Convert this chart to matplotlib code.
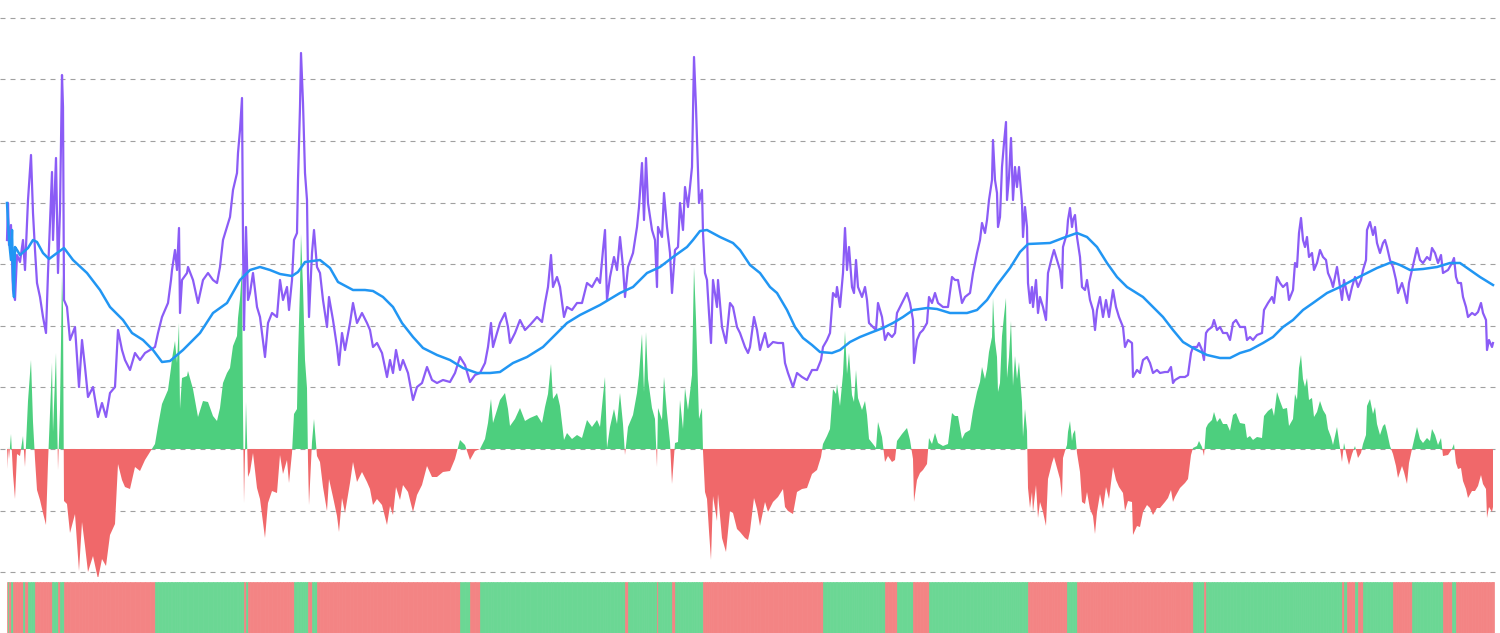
import numpy as np
import matplotlib.pyplot as plt

# price samples (day index, level) and the gap between price and its moving average
day = [7, 8, 9, 11, 13, 15, 17, 20, 23, 25,
       28, 31, 33, 35, 37, 40, 43, 46, 48, 52,
       53, 56, 58, 60, 62, 63, 64, 67, 70, 75,
       79, 82, 85, 88, 93, 98, 102, 106, 110, 115,
       118, 122, 125, 130, 135, 140, 145, 150, 155, 158,
       162, 165, 168, 171, 172, 175, 177, 179, 180, 182,
       187, 188, 193, 198, 203, 208, 213, 217, 220, 223,
       227, 230, 233, 237, 238, 240, 242, 243, 244, 246,
       248, 250, 253, 257, 260, 265, 268, 272, 277, 280,
       283, 287, 289, 292, 294, 297, 298, 300, 301, 303,
       305, 307, 308, 309, 312, 314, 317, 320, 323, 327,
       329, 333, 337, 339, 342, 345, 350, 353, 357, 362,
       367, 370, 373, 377, 382, 387, 390, 393, 396, 400,
       403, 408, 413, 417, 422, 427, 432, 437, 443, 450,
       455, 460, 465, 470, 475, 480, 485, 488, 491, 493,
       497, 500, 505, 508, 510, 515, 520, 525, 530, 537,
       542, 545, 548, 551, 553, 557, 560, 564, 567, 572,
       577, 582, 587, 592, 597, 600, 603, 605, 607, 610,
       614, 617, 620, 623, 625, 628, 633, 637, 639, 642,
       644, 646, 648, 652, 655, 657, 658, 662, 664, 667,
       670, 672, 675, 678, 680, 683, 685, 688, 692, 694,
       696, 697, 699, 702, 703, 705, 707, 709, 711, 713,
       717, 718, 722, 726, 730, 733, 737, 740, 745, 748,
       750, 754, 757, 760, 765, 768, 773, 778, 783, 785,
       788, 793, 797, 802, 807, 812, 817, 821, 823, 827,
       830, 833, 836, 837, 840, 843, 845, 847, 849, 852,
       854, 856, 858, 862, 865, 867, 869, 873, 876, 878,
       882, 885, 888, 892, 895, 897, 902, 907, 910, 913,
       914, 917, 920, 923, 927, 929, 932, 935, 938, 943,
       948, 952, 955, 958, 962, 965, 970, 973, 977, 980,
       982, 985, 987, 989, 992, 993, 995, 997, 998, 1000,
       1002, 1004, 1006, 1007, 1009, 1011, 1013, 1015, 1017, 1019,
       1022, 1023, 1025, 1027, 1028, 1030, 1032, 1033, 1036, 1038,
       1040, 1043, 1046, 1048, 1052, 1054, 1057, 1060, 1062, 1063,
       1065, 1067, 1068, 1070, 1072, 1073, 1075, 1077, 1080, 1082,
       1085, 1087, 1090, 1093, 1095, 1097, 1100, 1103, 1106, 1109,
       1113, 1116, 1119, 1123, 1125, 1128, 1132, 1133, 1137, 1140,
       1143, 1147, 1150, 1153, 1157, 1160, 1165, 1168, 1171, 1173,
       1175, 1180, 1185, 1188, 1191, 1193, 1197, 1199, 1202, 1204,
       1206, 1208, 1212, 1214, 1217, 1220, 1223, 1227, 1230, 1233,
       1236, 1240, 1245, 1247, 1250, 1253, 1257, 1262, 1264, 1268,
       1272, 1274, 1277, 1280, 1283, 1287, 1289, 1293, 1295, 1297,
       1299, 1301, 1303, 1305, 1307, 1309, 1312, 1314, 1317, 1320,
       1323, 1326, 1328, 1331, 1333, 1337, 1339, 1342, 1344, 1347,
       1349, 1352, 1355, 1358, 1361, 1363, 1366, 1367, 1370, 1373,
       1375, 1377, 1380, 1383, 1385, 1387, 1390, 1393, 1396, 1398,
       1402, 1404, 1407, 1409, 1412, 1415, 1417, 1420, 1423, 1427,
       1430, 1432, 1435, 1438, 1441, 1443, 1448, 1452, 1454, 1456,
       1458, 1461, 1463, 1466, 1468, 1472, 1475, 1478, 1481, 1483,
       1486, 1487, 1489, 1492, 1493]

price = [209, 246, 204, 224, 159, 149, 194, 187, 209, 179,
         249, 294, 236, 199, 166, 152, 132, 116, 176, 277,
         209, 291, 176, 239, 374, 342, 149, 142, 109, 122,
         62, 109, 82, 52, 62, 32, 46, 32, 56, 62,
         119, 99, 89, 79, 96, 89, 96, 99, 102, 116,
         132, 139, 146, 169, 179, 199, 179, 221, 136, 169,
         176, 182, 169, 146, 169, 176, 169, 166, 182, 209,
         222, 232, 259, 276, 296, 319, 351, 209, 119, 222,
         149, 156, 176, 142, 132, 92, 126, 136, 132, 169,
         149, 162, 139, 169, 209, 216, 269, 342, 396, 346,
         276, 249, 176, 132, 196, 219, 182, 176, 149, 122,
         152, 129, 102, 84, 116, 99, 126, 146, 126, 136,
         126, 119, 102, 106, 96, 72, 89, 76, 99, 79,
         89, 76, 49, 62, 66, 82, 69, 66, 69, 67,
         76, 92, 84, 67, 74, 76, 86, 102, 126, 102,
         116, 126, 136, 122, 106, 116, 129, 119, 124, 132,
         127, 146, 162, 194, 162, 172, 162, 132, 142, 139,
         146, 146, 166, 162, 171, 166, 199, 219, 149, 172,
         192, 179, 212, 182, 152, 182, 196, 222, 242, 286,
         229, 291, 246, 219, 209, 162, 222, 212, 256, 222,
         196, 156, 199, 202, 246, 219, 262, 242, 282, 392,
         342, 309, 246, 259, 216, 176, 169, 136, 106, 169,
         142, 169, 122, 106, 146, 142, 122, 116, 102, 96,
         102, 132, 119, 99, 116, 102, 107, 106, 106, 86,
         76, 62, 76, 72, 69, 79, 79, 89, 102, 109,
         116, 156, 152, 162, 142, 176, 221, 179, 202, 162,
         156, 189, 162, 152, 162, 149, 126, 122, 119, 146,
         132, 109, 116, 112, 116, 136, 146, 156, 146, 129,
         86, 109, 116, 119, 126, 152, 146, 156, 146, 142,
         142, 172, 169, 169, 146, 152, 156, 176, 196, 209,
         226, 216, 229, 249, 269, 309, 269, 256, 222, 232,
         282, 306, 327, 249, 272, 311, 249, 282, 262, 282,
         246, 212, 242, 222, 166, 146, 162, 142, 169, 136,
         152, 142, 129, 176, 192, 199, 189, 179, 161, 202,
         209, 216, 229, 241, 222, 229, 234, 212, 192, 162,
         159, 169, 149, 139, 119, 139, 152, 132, 149, 132,
         159, 142, 132, 122, 102, 109, 106, 72, 79, 76,
         89, 92, 86, 76, 79, 76, 77, 77, 82, 66,
         69, 72, 72, 74, 96, 102, 102, 106, 99, 89,
         116, 119, 122, 129, 119, 122, 116, 116, 109, 126,
         129, 122, 122, 109, 112, 109, 114, 116, 139, 146,
         152, 146, 172, 166, 162, 166, 149, 159, 186, 182,
         216, 231, 209, 202, 212, 192, 196, 179, 186, 199,
         192, 189, 176, 169, 162, 182, 169, 149, 169, 156,
         149, 162, 172, 162, 169, 179, 189, 219, 227, 214,
         222, 206, 196, 206, 209, 202, 189, 182, 169, 156,
         166, 159, 146, 166, 179, 192, 201, 189, 186, 192,
         189, 201, 196, 186, 194, 176, 179, 186, 191, 172,
         166, 166, 152, 142, 132, 136, 134, 137, 146, 136,
         129, 99, 109, 102, 106]

osc = [-20, 2, -10, 15, -25, -50, -5, -7, 13, -18,
       48, 89, 27, -10, -41, -51, -64, -76, -14, 86,
       17, 96, -21, 40, 174, 141, -52, -55, -84, -65,
       -122, -73, -97, -123, -107, -130, -110, -117, -86, -75,
       -15, -31, -38, -40, -18, -22, -11, -3, 5, 23,
       45, 52, 59, 81, 90, 108, 86, 126, 40, 71,
       73, 78, 60, 32, 48, 47, 33, 28, 41, 66,
       76, 81, 103, 113, 131, 150, 180, 37, -54, 47,
       -28, -23, -4, -39, -50, -89, -54, -42, -44, -6,
       -25, -11, -34, -4, 35, 40, 92, 162, 215, 162,
       89, 61, -12, -56, 7, 30, -7, -13, -38, -62,
       -30, -48, -67, -83, -49, -64, -34, -13, -33, -23,
       -33, -40, -56, -50, -56, -76, -57, -66, -38, -51,
       -36, -43, -63, -46, -36, -17, -28, -28, -23, -22,
       -10, 9, 4, -11, -2, 0, 10, 26, 50, 26,
       39, 49, 56, 40, 23, 30, 41, 28, 31, 34,
       26, 42, 55, 85, 50, 56, 43, 9, 16, 10,
       14, 11, 29, 22, 29, 22, 53, 72, 1, 22,
       40, 25, 56, 25, -6, 22, 34, 56, 74, 115,
       57, 117, 70, 41, 30, -18, 41, 29, 72, 36,
       7, -35, 6, 7, 49, 20, 61, 39, 74, 182,
       130, 96, 30, 41, -2, -43, -50, -82, -111, -47,
       -72, -45, -89, -103, -62, -64, -80, -83, -89, -91,
       -82, -49, -60, -77, -53, -63, -53, -48, -40, -58,
       -62, -65, -43, -40, -39, -25, -21, -8, 5, 13,
       20, 60, 55, 65, 43, 75, 118, 75, 96, 54,
       47, 79, 51, 39, 48, 34, 10, 5, 1, 27,
       12, -13, -7, -13, -11, 8, 15, 21, 9, -10,
       -53, -31, -24, -21, -15, 11, 5, 16, 6, 3,
       5, 36, 33, 33, 10, 16, 19, 38, 57, 67,
       82, 70, 80, 97, 112, 151, 108, 92, 57, 66,
       113, 133, 151, 71, 92, 128, 63, 93, 70, 87,
       47, 12, 40, 18, -39, -59, -43, -63, -36, -69,
       -53, -63, -77, -30, -14, -8, -19, -30, -49, -9,
       -2, 4, 17, 28, 8, 15, 19, -4, -23, -53,
       -55, -43, -60, -67, -85, -63, -45, -60, -38, -50,
       -18, -31, -38, -44, -62, -52, -53, -86, -77, -78,
       -63, -56, -59, -66, -59, -59, -53, -49, -41, -53,
       -48, -39, -34, -30, -6, 1, 3, 8, 2, -7,
       21, 25, 29, 37, 27, 31, 25, 25, 18, 34,
       36, 26, 25, 11, 13, 9, 12, 11, 33, 38,
       41, 33, 57, 48, 40, 41, 23, 30, 55, 49,
       81, 94, 70, 62, 71, 49, 51, 32, 37, 48,
       39, 34, 20, 12, 4, 22, 8, -13, 6, -8,
       -16, -5, 3, -9, -4, 5, 14, 43, 50, 35,
       42, 25, 14, 23, 25, 17, 3, -5, -17, -29,
       -17, -23, -35, -14, 0, 13, 22, 10, 6, 11,
       8, 20, 14, 4, 11, -7, -6, 0, 5, -14,
       -20, -19, -32, -40, -49, -42, -42, -37, -26, -35,
       -40, -69, -58, -63, -58]

# moving average, read at its own dates
ma_day = [7, 9, 11, 12, 13, 14, 15, 17, 20, 28,
          33, 37, 43, 49, 57, 64, 73, 87, 100, 110,
          123, 132, 143, 153, 162, 170, 183, 200, 213, 227,
          240, 250, 260, 270, 280, 292, 298, 305, 320, 330,
          338, 353, 365, 373, 383, 393, 402, 413, 423, 437,
          450, 463, 477, 490, 500, 513, 527, 543, 553, 567,
          580, 600, 620, 633, 647, 660, 673, 687, 693, 700,
          707, 720, 733, 740, 750, 760, 770, 777, 787, 795,
          803, 812, 820, 832, 840, 850, 860, 870, 883, 893,
          903, 913, 927, 937, 950, 967, 977, 987, 997, 1010,
          1020, 1028, 1050, 1063, 1077, 1087, 1097, 1107, 1117, 1127,
          1143, 1153, 1163, 1173, 1183, 1193, 1207, 1220, 1230, 1240,
          1250, 1263, 1273, 1283, 1293, 1303, 1313, 1327, 1340, 1353,
          1367, 1377, 1387, 1392, 1400, 1410, 1423, 1437, 1450, 1460,
          1470, 1480, 1493]

ma = [246, 209, 189, 219, 169, 152, 202, 199, 194, 201,
      209, 207, 196, 190, 196, 201, 189, 176, 159, 142,
      129, 116, 109, 99, 87, 88, 99, 116, 136, 146,
      169, 179, 182, 179, 175, 173, 177, 187, 189, 181,
      167, 159, 159, 158, 152, 142, 126, 112, 101, 94,
      89, 81, 76, 76, 77, 86, 92, 102, 112, 126,
      134, 144, 156, 162, 176, 182, 192, 202, 209, 218,
      219, 212, 206, 199, 184, 176, 162, 156, 139, 122,
      111, 104, 97, 96, 99, 107, 112, 116, 121, 126,
      132, 139, 141, 140, 136, 136, 139, 149, 164, 181,
      197, 205, 206, 211, 216, 212, 202, 186, 172, 162,
      152, 142, 132, 119, 107, 101, 94, 91, 91, 96,
      99, 106, 112, 122, 129, 139, 146, 156, 162, 169,
      176, 181, 185, 187, 184, 179, 180, 182, 186, 186,
      179, 172, 164]

assert len(day) == len(price) == len(osc)
assert len(ma_day) == len(ma)

GREEN = '#4dcf7e'
RED = '#f0686a'
STRIP_GREEN = '#6bd794'
STRIP_RED = '#f38484'
PURPLE = '#8b5cf6'
BLUE = '#2196f3'

day = np.array(day)
osc = np.array(osc)

fig = plt.figure(figsize=(15, 6.33), dpi=100)
ax = fig.add_axes([0, 56 / 633, 1, 577 / 633])
strip = fig.add_axes([0, 0, 1, 51 / 633])

# %% oscillator + price + average
ax.fill_between(day, osc, 0, where=osc >= 0, interpolate=True, color=GREEN, lw=0, zorder=2)
ax.fill_between(day, osc, 0, where=osc <= 0, interpolate=True, color=RED, lw=0, zorder=2)
ax.plot(day, price, color=PURPLE, lw=1.6, zorder=3)
ax.plot(ma_day, ma, color=BLUE, lw=1.8, zorder=4)

ax.set_xlim(0, 1500)
ax.set_ylim(-128, 449)
ax.set_yticks(np.arange(-2, 8) * 61.6)
ax.grid(axis='y', color='#a0a0a0', lw=0.8, ls=(0, (4.5, 4.5)))
ax.set_axisbelow(True)
ax.tick_params(length=0, labelleft=False, labelbottom=False)
for s in ax.spines.values():
    s.set_visible(False)

# %% regime strip
widths = np.append(np.diff(day), 1)
colors = [STRIP_GREEN if v >= 0 else STRIP_RED for v in osc]
strip.bar(day, 1, width=widths, align='edge', color=colors, edgecolor=colors, lw=0.5)
strip.set_xlim(0, 1500)
strip.set_ylim(0, 1)
strip.axis('off')

fig.savefig('out.png', dpi=100)
